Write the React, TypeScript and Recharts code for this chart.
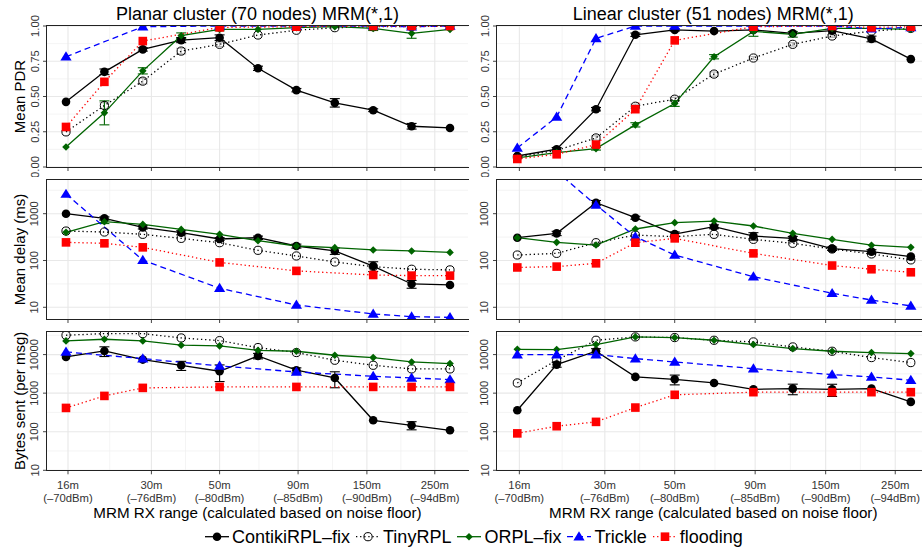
import React from 'react';
import { LineChart, Line, XAxis, YAxis, CartesianGrid, ErrorBar } from 'recharts';

const FONT = '"Liberation Sans", Arial, Helvetica, sans-serif';

// x: MRM RX threshold, in -dBm (2.5 dB steps)
const RX_THRESHOLDS = [70, 72.5, 75, 77.5, 80, 82.5, 85, 87.5, 90, 92.5, 95];
const X_TICK_VALUES = [70.13, 75.56, 80.0, 85.11, 89.59, 94.01];
const X_TICK_RANGE = ['16m', '30m', '50m', '90m', '150m', '250m'];
const X_TICK_DBM = ['(–70dBm)', '(–76dBm)', '(–80dBm)', '(–85dBm)', '(–90dBm)', '(–94dBm)'];
const X_MINOR = [72.85, 77.78, 82.56, 87.35, 91.8];

const PDR_TICKS = [0, 0.25, 0.5, 0.75, 1];
const PDR_MINOR = [0.125, 0.375, 0.625, 0.875];
const DELAY_TICKS = [10, 100, 1000];
const DELAY_MINOR = [3.162, 31.62, 316.2, 3162];
const BYTES_TICKS = [10, 100, 1000, 10000];
const BYTES_MINOR = [31.62, 316.2, 3162, 31623];

// ---- Planar cluster: Mean PDR
const planarPdrContiki = [0.462, 0.675, 0.834, 0.9, 0.917, 0.7, 0.545, 0.455, 0.403, 0.289, 0.277];
const planarPdrTiny = [0.249, 0.436, 0.609, 0.822, 0.87, 0.936, 0.97, 0.988, 0.995, 0.995, 1.0];
const planarPdrOrpl = [0.142, 0.384, 0.682, 0.931, 0.976, 0.976, 0.988, 0.995, 0.983, 0.948, 0.976];
const planarPdrTrickle = [0.782, null, 0.995, null, 1.0, null, 1.0, null, 1.0, 0.995, 1.0];
const planarPdrFlooding = [0.284, 0.604, 0.893, null, 0.99, null, 0.995, null, 1.0, 1.0, 1.0];
const planarPdrContikiErr = [null, 0.02, 0.012, 0.018, 0.02, 0.015, 0.012, 0.03, 0.01, 0.02, null];
const planarPdrOrplErr = [null, 0.085, 0.022, 0.02, 0.01, null, null, null, 0.015, 0.035, null];
const planarPdrTinyErr = [null, 0.02, 0.02, 0.02, 0.015, null, null, null, null, null, null];

// ---- Linear cluster: Mean PDR
const linearPdrContiki = [0.078, 0.126, 0.41, 0.938, 0.972, 0.964, 0.972, 0.948, 0.967, 0.908, 0.765];
const linearPdrTiny = [0.071, 0.118, 0.206, 0.431, 0.481, 0.659, 0.773, 0.87, 0.929, 0.964, 0.983];
const linearPdrOrpl = [0.064, 0.102, 0.13, 0.299, 0.45, 0.782, 0.962, 0.941, 0.983, 0.983, 0.976];
const linearPdrTrickle = [0.135, 0.355, 0.912, 1.0, 1.0, null, 1.0, null, 1.0, 0.98, 0.99];
const linearPdrFlooding = [0.057, 0.09, 0.159, 0.41, 0.898, null, 0.995, null, 1.0, 0.99, 0.995];
const linearPdrContikiErr = [null, 0.012, 0.012, 0.012, 0.008, null, null, null, null, 0.02, null];
const linearPdrOrplErr = [null, null, 0.01, 0.015, 0.02, 0.015, 0.035, 0.02, null, null, null];
const linearPdrTinyErr = [null, null, 0.015, 0.015, 0.012, 0.015, 0.01, 0.012, 0.01, null, null];

// ---- Planar cluster: Mean delay (ms)
const planarDelayContiki = [1000, 795, 511, 393, 288, 307, 204, 160, 76, 31.5, 30];
const planarDelayTiny = [426, 406, 362, 297, 240, 165, 125, 93, 74, 65, 63];
const planarDelayOrpl = [399, 675, 591, 462, 362, 265, 204, 188, 168, 160, 149];
const planarDelayTrickle = [2630, null, 102, null, 25.5, null, 11.2, null, 7.2, 6.3, 6.1];
const planarDelayFlooding = [244, 233, 191, null, 91, null, 60, null, 49, 47.5, 47.5];
const planarDelayContikiErr = [null, 60, 40, 40, 20, 25, 20, 25, 18, 6, null];
const planarDelayOrplErr = [null, 60, null, null, null, null, null, null, null, null, null];

// ---- Linear cluster: Mean delay (ms)
const linearDelayContiki = [307, 380, 1717, 822, 368, 527, 333, 297, 179, 155, 121];
const linearDelayTiny = [131, 142, 240, 350, 323, 362, 283, 233, 176, 138, 103];
const linearDelayOrpl = [307, 244, 214, 471, 643, 697, 546, 380, 283, 212, 191];
const linearDelayTrickle = [15000, 8000, 1531, 323, 131, null, 45, null, 19.9, 14.3, 10.7];
const linearDelayFlooding = [71, 74, 87, 240, 297, null, 142, null, 78, 65, 56];
const linearDelayContikiErr = [null, 40, 200, 60, 40, 50, 60, 30, 15, 15, null];

// ---- Planar cluster: Bytes sent (per msg)
const planarBytesContiki = [8700, 12400, 7420, 5280, 3700, 9240, 3930, 2480, 198, 147, 109];
const planarBytesTiny = [31700, 35000, 35000, 27000, 23000, 15200, 11300, 7130, 5280, 4250, 4250];
const planarBytesOrpl = [22600, 25000, 22600, 17500, 16800, 12900, 12200, 9620, 8360, 6450, 5840];
const planarBytesTrickle = [11700, null, 7870, null, 5080, null, 3550, null, 2740, 2480, 2250];
const planarBytesFlooding = [414, 848, 1370, null, 1450, null, 1450, null, 1450, 1450, 1450];
const planarBytesContikiErr = [null, 3500, null, 1400, 1700, 1500, 600, 1100, null, 35, null];

// ---- Linear cluster: Bytes sent (per msg)
const linearBytesContiki = [360, 5500, 12200, 2640, 2290, 1840, 1260, 1310, 1260, 1310, 593];
const linearBytesTiny = [1840, 7130, 23500, 28700, 27600, 23500, 21300, 15800, 12200, 8360, 6200];
const linearBytesOrpl = [13700, 13500, 18200, 28700, 27600, 23500, 18200, 14300, 12200, 11300, 10600];
const linearBytesTrickle = [10000, 10000, 10000, 7870, 6450, null, 4330, null, 3030, 2640, 2160];
const linearBytesFlooding = [90.6, 139, 180, 423, 906, null, 1060, null, 1060, 1060, 1060];
const linearBytesContikiErr = [null, 800, 2000, null, 650, null, null, 400, 440, null, null];

type Vals = (number | null)[];

const SERIES = [
  { key: 'contiki', name: 'ContikiRPL–fix', color: '#000000', dash: undefined as string | undefined, shape: 'circle', err: '#000000', width: 1.3 },
  { key: 'tiny', name: 'TinyRPL', color: '#000000', dash: '1.3 2.8', shape: 'open', err: '#b5b5b5', width: 1.3 },
  { key: 'orpl', name: 'ORPL–fix', color: '#006400', dash: undefined, shape: 'diamond', err: '#006400', width: 1.3 },
  { key: 'trickle', name: 'Trickle', color: '#0000ff', dash: '6 4', shape: 'triangle', err: '#8080ff', width: 1.3 },
  { key: 'flooding', name: 'flooding', color: '#ff0000', dash: '1.3 2.8', shape: 'square', err: '#ffb0b0', width: 1.3 },
];

function buildRows(values: Record<string, Vals>, errors: Record<string, Vals>) {
  return RX_THRESHOLDS.map((x, i) => {
    const r: any = { x };
    Object.keys(values).forEach((k) => (r[k] = values[k][i]));
    Object.keys(errors).forEach((k) => (r[k + 'Err'] = errors[k][i]));
    return r;
  });
}

const Marker = ({ shape, cx, cy, color }: any) => {
  switch (shape) {
    case 'circle':
      return <circle cx={cx} cy={cy} r={4.3} fill={color} />;
    case 'open':
      return <circle cx={cx} cy={cy} r={4.1} fill="none" stroke={color} strokeWidth={1} />;
    case 'diamond':
      return <polygon points={`${cx},${cy - 3.8} ${cx + 3.8},${cy} ${cx},${cy + 3.8} ${cx - 3.8},${cy}`} fill={color} />;
    case 'triangle':
      return <polygon points={`${cx},${cy - 5.4} ${cx + 5.6},${cy + 3.8} ${cx - 5.6},${cy + 3.8}`} fill={color} />;
    case 'square':
      return <rect x={cx - 4.3} y={cy - 4.3} width={8.6} height={8.6} fill={color} />;
    default:
      return null;
  }
};

const makeDot = (shape: string, color: string) => (props: any) => {
  const { cx, cy, index, value } = props;
  if (cx == null || cy == null || value == null || isNaN(cx) || isNaN(cy)) return <g key={`e-${index}`} />;
  return (
    <g key={`d-${index}`}>
      <Marker shape={shape} cx={cx} cy={cy} color={color} />
    </g>
  );
};

const TOP_PAD = 14;
const Y_AXIS_W = 47;

const EmptyTick = () => <g />;

// bottom-row x tick labels, placed relative to the plot's bottom edge
const makeXTick = (plotBottom: number) => (props: any) => {
  const { x, payload } = props;
  const i = X_TICK_VALUES.indexOf(payload.value);
  return (
    <g>
      <text x={x} y={plotBottom + 19} textAnchor="middle" fontSize={11.3} fontFamily={FONT} fill="#333">
        {X_TICK_RANGE[i]}
      </text>
      <text x={x} y={plotBottom + 31.6} textAnchor="middle" fontSize={11.3} fontFamily={FONT} fill="#333">
        {X_TICK_DBM[i]}
      </text>
    </g>
  );
};

const makeYTick = (fmt: (v: number) => string) => (props: any) => {
  const { x, y, payload } = props;
  const tx = x - 2.5;
  return (
    <text x={tx} y={y} transform={`rotate(-90 ${tx} ${y})`} textAnchor="middle" fontSize={11.3} fontFamily={FONT} fill="#333">
      {fmt(payload.value)}
    </text>
  );
};

type PanelCfg = {
  rows: any[];
  left: number;
  width: number;
  xDomain: [number, number];
  plotTop: number;
  plotH: number;
  xAxisH: number;
  bottom: boolean;
  scale: 'linear' | 'log';
  yDomain: [number, number];
  yTicks: number[];
  yMinor: number[];
  fmt: (v: number) => string;
};

function Panel({ p }: { p: PanelCfg }) {
  const plotW = p.width - Y_AXIS_W;
  return (
    <div style={{ position: 'absolute', left: p.left, top: p.plotTop - TOP_PAD }}>
      <LineChart
        width={p.width}
        height={TOP_PAD + p.plotH + p.xAxisH}
        data={p.rows}
        margin={{ top: TOP_PAD, right: 0, bottom: 0, left: 0 }}
      >
        <CartesianGrid stroke="#efefef" strokeWidth={0.7} horizontalValues={p.yMinor} verticalValues={X_MINOR} />
        <CartesianGrid stroke="#e8e8e8" strokeWidth={1.1} horizontalValues={p.yTicks} verticalValues={X_TICK_VALUES} />
        <XAxis
          type="number"
          dataKey="x"
          domain={p.xDomain}
          allowDataOverflow
          ticks={X_TICK_VALUES}
          interval={0}
          axisLine={false}
          tickLine={{ stroke: '#444', strokeWidth: 1 }}
          tickSize={4}
          tickMargin={2}
          height={p.xAxisH}
          tick={p.bottom ? makeXTick(TOP_PAD + p.plotH) : EmptyTick}
        />
        <YAxis
          type="number"
          scale={p.scale}
          domain={p.yDomain}
          allowDataOverflow
          ticks={p.yTicks}
          interval={0}
          width={Y_AXIS_W}
          axisLine={false}
          tickLine={{ stroke: '#444', strokeWidth: 1 }}
          tickSize={4}
          tickMargin={2}
          tick={makeYTick(p.fmt)}
        />
        {SERIES.map((s) => (
          <Line
            key={s.key}
            type="linear"
            dataKey={s.key}
            stroke={s.color}
            strokeWidth={s.width}
            strokeDasharray={s.dash}
            dot={makeDot(s.shape, s.color)}
            activeDot={false}
            connectNulls
            isAnimationActive={false}
          >
            {p.rows.some((r) => r[s.key + 'Err'] != null) ? (
              <ErrorBar dataKey={s.key + 'Err'} direction="y" width={5} stroke={s.err} strokeWidth={1.1} />
            ) : null}
          </Line>
        ))}
      </LineChart>
      <div
        style={{
          position: 'absolute',
          left: Y_AXIS_W - 0.7,
          top: TOP_PAD - 0.7,
          width: plotW + 2,
          height: p.plotH + 1.4,
          borderLeft: '1.4px solid #222',
          borderTop: '1.4px solid #222',
          borderBottom: '1.4px solid #222',
          boxSizing: 'border-box',
          pointerEvents: 'none',
        }}
      />
    </div>
  );
}

const COL_LEFT = { left: 0, width: 468, xDomain: [68.763, 96.172] as [number, number] };
const COL_RIGHT = { left: 450, width: 472, xDomain: [68.71, 95.71] as [number, number] };
const ROW_PDR = { plotTop: 26, plotH: 141, xAxisH: 10, bottom: false, scale: 'linear' as const, yDomain: [0, 1] as [number, number], yTicks: PDR_TICKS, yMinor: PDR_MINOR, fmt: (v: number) => v.toFixed(2) };
const ROW_DELAY = { plotTop: 180, plotH: 139, xAxisH: 10, bottom: false, scale: 'log' as const, yDomain: [5.62, 5250] as [number, number], yTicks: DELAY_TICKS, yMinor: DELAY_MINOR, fmt: (v: number) => String(v) };
const ROW_BYTES = { plotTop: 331.7, plotH: 138.3, xAxisH: 40, bottom: true, scale: 'log' as const, yDomain: [10, 38500] as [number, number], yTicks: BYTES_TICKS, yMinor: BYTES_MINOR, fmt: (v: number) => String(v) };

const PANELS: PanelCfg[] = [
  { ...COL_LEFT, ...ROW_PDR, rows: buildRows({ contiki: planarPdrContiki, tiny: planarPdrTiny, orpl: planarPdrOrpl, trickle: planarPdrTrickle, flooding: planarPdrFlooding }, { contiki: planarPdrContikiErr, orpl: planarPdrOrplErr, tiny: planarPdrTinyErr }) },
  { ...COL_RIGHT, ...ROW_PDR, rows: buildRows({ contiki: linearPdrContiki, tiny: linearPdrTiny, orpl: linearPdrOrpl, trickle: linearPdrTrickle, flooding: linearPdrFlooding }, { contiki: linearPdrContikiErr, orpl: linearPdrOrplErr, tiny: linearPdrTinyErr }) },
  { ...COL_LEFT, ...ROW_DELAY, rows: buildRows({ contiki: planarDelayContiki, tiny: planarDelayTiny, orpl: planarDelayOrpl, trickle: planarDelayTrickle, flooding: planarDelayFlooding }, { contiki: planarDelayContikiErr, orpl: planarDelayOrplErr }) },
  { ...COL_RIGHT, ...ROW_DELAY, rows: buildRows({ contiki: linearDelayContiki, tiny: linearDelayTiny, orpl: linearDelayOrpl, trickle: linearDelayTrickle, flooding: linearDelayFlooding }, { contiki: linearDelayContikiErr }) },
  { ...COL_LEFT, ...ROW_BYTES, rows: buildRows({ contiki: planarBytesContiki, tiny: planarBytesTiny, orpl: planarBytesOrpl, trickle: planarBytesTrickle, flooding: planarBytesFlooding }, { contiki: planarBytesContikiErr }) },
  { ...COL_RIGHT, ...ROW_BYTES, rows: buildRows({ contiki: linearBytesContiki, tiny: linearBytesTiny, orpl: linearBytesOrpl, trickle: linearBytesTrickle, flooding: linearBytesFlooding }, { contiki: linearBytesContikiErr }) },
];

const TITLES = ['Planar cluster (70 nodes) MRM(*,1)', 'Linear cluster (51 nodes) MRM(*,1)'];
const Y_TITLES = ['Mean PDR', 'Mean delay (ms)', 'Bytes sent (per msg)'];
const X_TITLE = 'MRM RX range (calculated based on noise floor)';

const LegendKey = ({ s }: any) => (
  <svg width={24} height={20} style={{ display: 'block' }}>
    <line x1={0} y1={9.7} x2={24} y2={9.7} stroke={s.color} strokeWidth={1.3} strokeDasharray={s.dash} />
    <Marker shape={s.shape} cx={12} cy={9.7} color={s.color} />
  </svg>
);

export default function App() {
  const colCenters = [257.5, 713.3];
  const rowCenters = [
    ROW_PDR.plotTop + ROW_PDR.plotH / 2,
    ROW_DELAY.plotTop + ROW_DELAY.plotH / 2,
    ROW_BYTES.plotTop + ROW_BYTES.plotH / 2,
  ];
  return (
    <div style={{ position: 'absolute', left: 0, top: 0, width: 922, height: 550, overflow: 'hidden', background: '#fff', fontFamily: FONT }}>
      <svg width={922} height={550} style={{ position: 'absolute', left: 0, top: 0 }}>
        {TITLES.map((t, i) => (
          <text key={t} x={colCenters[i]} y={19.7} textAnchor="middle" fontSize={18} fontFamily={FONT} fill="#000">
            {t}
          </text>
        ))}
        {Y_TITLES.map((t, i) => (
          <text key={t} x={25} y={rowCenters[i]} transform={`rotate(-90 25 ${rowCenters[i]})`} textAnchor="middle" fontSize={15} fontFamily={FONT} fill="#000">
            {t}
          </text>
        ))}
        {colCenters.map((c) => (
          <text key={c} x={c} y={518} textAnchor="middle" fontSize={15.2} fontFamily={FONT} fill="#000">
            {X_TITLE}
          </text>
        ))}
      </svg>
      {PANELS.map((p, i) => (
        <Panel key={i} p={p} />
      ))}
      <div style={{ position: 'absolute', left: 205, top: 527, display: 'flex', alignItems: 'flex-start', height: 20, whiteSpace: 'nowrap' }}>
        {SERIES.map((s) => (
          <div key={s.key} style={{ display: 'flex', alignItems: 'flex-start', marginRight: 6 }}>
            <LegendKey s={s} />
            <span style={{ marginLeft: 3, fontSize: 18, lineHeight: '20px', fontFamily: FONT, color: '#000' }}>{s.name}</span>
          </div>
        ))}
      </div>
    </div>
  );
}
